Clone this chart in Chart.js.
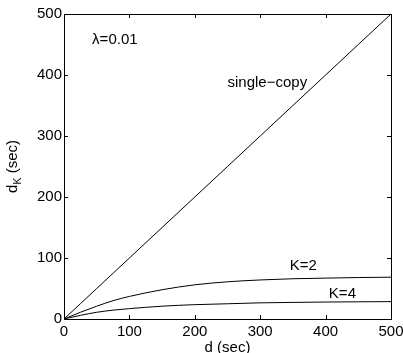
<!DOCTYPE html>
<html lang="en">
<head>
    <meta charset="UTF-8">
    <title>d_K vs d</title>
    <script src="https://cdn.jsdelivr.net/npm/chart.js"></script>
    <style>
        html, body { margin: 0; padding: 0; background: #ffffff; }
        #wrap { width: 403px; height: 353px; }
    </style>
</head>
<body>
    <div id="wrap"><canvas id="chart" width="403" height="353"></canvas></div>
    <script>
        // data
        const dValues = [0, 25, 50, 75, 100, 150, 200, 250, 300, 350, 400, 450, 500];
        const singleCopy = [0, 25, 50, 75, 100, 150, 200, 250, 300, 350, 400, 450, 500];
        const k2Values = [0, 11, 21, 30, 37, 48, 56, 61, 64, 66, 67, 68, 68.5];
        const k4Values = [0, 6, 11, 14.5, 17, 21, 23.5, 25, 26.5, 27.2, 27.8, 28.2, 28.5];
        const tickValues = [0, 100, 200, 300, 400, 500];

        // text labels placed in data units: [text, x, y]
        const notes = [
            ['λ=0.01', 43, 457],
            ['single\u2212copy', 250, 387],
            ['K=2', 345, 87],
            ['K=4', 405, 41]
        ];

        const FONT = '"Liberation Sans", Arial, sans-serif';

        function toPoints(xs, ys) {
            return xs.map((x, i) => ({ x: x, y: ys[i] }));
        }

        function lineSet(label, ys) {
            return {
                label: label,
                data: toPoints(dValues, ys),
                borderColor: '#000000',
                borderWidth: 1,
                pointRadius: 0,
                cubicInterpolationMode: 'monotone',
                fill: false
            };
        }

        // box around plot, inward ticks on all four sides, notes and y title
        const framePlugin = {
            id: 'frame',
            afterDraw(chart) {
                const ctx = chart.ctx;
                const a = chart.chartArea;
                const xs = chart.scales.x;
                const ys = chart.scales.y;
                ctx.save();
                ctx.strokeStyle = '#000000';
                ctx.lineWidth = 1;
                ctx.strokeRect(a.left + 0.5, a.top + 0.5, a.right - a.left, a.bottom - a.top);
                ctx.beginPath();
                tickValues.forEach(v => {
                    const px = Math.round(xs.getPixelForValue(v)) + 0.5;
                    ctx.moveTo(px, a.bottom);
                    ctx.lineTo(px, a.bottom - 4);
                    ctx.moveTo(px, a.top);
                    ctx.lineTo(px, a.top + 4);
                    const py = Math.round(ys.getPixelForValue(v)) + 0.5;
                    ctx.moveTo(a.left, py);
                    ctx.lineTo(a.left + 4, py);
                    ctx.moveTo(a.right, py);
                    ctx.lineTo(a.right - 4, py);
                });
                ctx.stroke();

                ctx.fillStyle = '#000000';
                ctx.font = '15px ' + FONT;
                ctx.textAlign = 'left';
                ctx.textBaseline = 'middle';
                notes.forEach(n => {
                    ctx.fillText(n[0], xs.getPixelForValue(n[1]), ys.getPixelForValue(n[2]));
                });

                // y title: d with subscript K
                ctx.translate(17, (a.top + a.bottom) / 2);
                ctx.rotate(-Math.PI / 2);
                ctx.textBaseline = 'alphabetic';
                ctx.font = '15px ' + FONT;
                const wD = ctx.measureText('d').width;
                ctx.font = '11px ' + FONT;
                const wK = ctx.measureText('K').width;
                ctx.font = '15px ' + FONT;
                const wRest = ctx.measureText(' (sec)').width;
                let x0 = -(wD + wK + wRest) / 2;
                ctx.fillText('d', x0, 0);
                ctx.font = '11px ' + FONT;
                ctx.fillText('K', x0 + wD, 4);
                ctx.font = '15px ' + FONT;
                ctx.fillText(' (sec)', x0 + wD + wK, 0);
                ctx.restore();
            }
        };

        new Chart(document.getElementById('chart').getContext('2d'), {
            type: 'line',
            data: {
                datasets: [
                    lineSet('single-copy', singleCopy),
                    lineSet('K=2', k2Values),
                    lineSet('K=4', k4Values)
                ]
            },
            options: {
                responsive: false,
                animation: false,
                layout: { padding: { top: 14, right: 0, left: 0, bottom: 0 } },
                plugins: {
                    legend: { display: false },
                    tooltip: { enabled: false }
                },
                scales: {
                    x: {
                        type: 'linear',
                        min: 0,
                        max: 500,
                        afterBuildTicks(s) { s.ticks = tickValues.map(v => ({ value: v })); },
                        afterFit(s) { s.height = 34; s.paddingRight = 12; },
                        grid: { display: false, drawTicks: false },
                        border: { display: false },
                        ticks: {
                            color: '#000000',
                            font: { family: FONT, size: 15 },
                            padding: 4,
                            maxRotation: 0
                        },
                        title: {
                            display: true,
                            text: 'd (sec)',
                            color: '#000000',
                            font: { family: FONT, size: 15 },
                            padding: { top: 0, bottom: -4 }
                        }
                    },
                    y: {
                        type: 'linear',
                        min: 0,
                        max: 500,
                        afterBuildTicks(s) { s.ticks = tickValues.map(v => ({ value: v })); },
                        afterFit(s) { s.width = 64; },
                        grid: { display: false, drawTicks: false },
                        border: { display: false },
                        ticks: {
                            color: '#000000',
                            font: { family: FONT, size: 15 },
                            padding: 2
                        }
                    }
                }
            },
            plugins: [framePlugin]
        });
    </script>
</body>
</html>
